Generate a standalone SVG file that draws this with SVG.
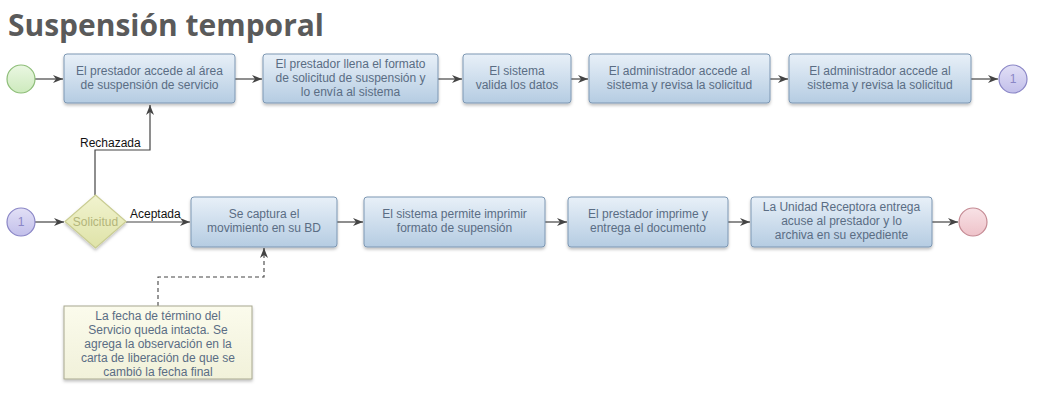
<svg xmlns="http://www.w3.org/2000/svg" width="1064" height="408" viewBox="0 0 1064 408">
<defs>
<linearGradient id="gBox" x1="0" y1="0" x2="0" y2="1"><stop offset="0" stop-color="#e8f0f8"/><stop offset="1" stop-color="#b5cce2"/></linearGradient>
<linearGradient id="gStart" x1="0" y1="0" x2="0" y2="1"><stop offset="0" stop-color="#eaf7e2"/><stop offset="1" stop-color="#cdeabd"/></linearGradient>
<linearGradient id="gLink" x1="0" y1="0" x2="0" y2="1"><stop offset="0" stop-color="#e2e0f6"/><stop offset="1" stop-color="#c2bfea"/></linearGradient>
<linearGradient id="gEnd" x1="0" y1="0" x2="0" y2="1"><stop offset="0" stop-color="#f8e2e6"/><stop offset="1" stop-color="#eec2c9"/></linearGradient>
<linearGradient id="gDia" x1="0" y1="0" x2="0" y2="1"><stop offset="0" stop-color="#f1f3cf"/><stop offset="1" stop-color="#dfe3a8"/></linearGradient>
<linearGradient id="gNote" x1="0" y1="0" x2="0" y2="1"><stop offset="0" stop-color="#fbfbec"/><stop offset="1" stop-color="#f1f1da"/></linearGradient>
<filter id="sh" x="-10%" y="-10%" width="130%" height="140%"><feDropShadow dx="0" dy="2" stdDeviation="1.5" flood-color="#000" flood-opacity="0.25"/></filter>
<marker id="arr" viewBox="0 0 10 10" refX="10" refY="5" markerWidth="10" markerHeight="10" markerUnits="userSpaceOnUse" orient="auto"><path d="M0,1 L10,5 L0,9 L3,5 Z" fill="#444"/></marker>
</defs>
<style>
.box{fill:url(#gBox);stroke:#7d97b3;stroke-width:1;filter:url(#sh)}
.t{font-family:"Liberation Sans",Arial,sans-serif;font-size:12px;fill:#5a6d84;text-anchor:middle}
.lbl{font-family:"Liberation Sans",Arial,sans-serif;font-size:12px;fill:#111}
.c{fill:none;stroke:#444;stroke-width:1.2}
.d{fill:none;stroke:#444;stroke-width:1.1;stroke-dasharray:4,3}
</style>
<text x="8" y="36" font-family="Open Sans, sans-serif" font-weight="bold" font-size="31" fill="#5a5a5a" textLength="316" lengthAdjust="spacingAndGlyphs">Suspensión temporal</text>

<g id="connectors">
<path class="c" d="M35,79 H63" marker-end="url(#arr)"/>
<path class="c" d="M235,79 H262" marker-end="url(#arr)"/>
<path class="c" d="M438,79 H462" marker-end="url(#arr)"/>
<path class="c" d="M571,79 H588" marker-end="url(#arr)"/>
<path class="c" d="M770,79 H788" marker-end="url(#arr)"/>
<path class="c" d="M971,79 H998" marker-end="url(#arr)"/>
<path class="c" d="M35,222 H64" marker-end="url(#arr)"/>
<path class="c" d="M95,195 V150 H150 V105" marker-end="url(#arr)"/>
<path class="c" d="M126,222 H190" marker-end="url(#arr)"/>
<path class="c" d="M337,222 H363" marker-end="url(#arr)"/>
<path class="c" d="M545,222 H567" marker-end="url(#arr)"/>
<path class="c" d="M728,222 H750" marker-end="url(#arr)"/>
<path class="c" d="M932,222 H958" marker-end="url(#arr)"/>
<path class="d" d="M158,306 V277 H264 V248" marker-end="url(#arr)"/>
<text class="lbl" x="80" y="147">Rechazada</text>
<text class="lbl" x="130" y="218">Aceptada</text>
</g>

<g id="start"><circle cx="21" cy="79" r="14" fill="url(#gStart)" stroke="#8dbd78" stroke-width="1.2"/></g>
<g id="n1"><rect class="box" x="64" y="54" width="171" height="49" rx="3"/><text class="t" x="149.5" y="75">El prestador accede al área</text><text class="t" x="149.5" y="89">de suspensión de servicio</text></g>
<g id="n2"><rect class="box" x="263" y="54" width="175" height="49" rx="3"/><text class="t" x="350.5" y="68">El prestador llena el formato</text><text class="t" x="350.5" y="82">de solicitud de suspensión y</text><text class="t" x="350.5" y="96">lo envía al sistema</text></g>
<g id="n3"><rect class="box" x="463" y="54" width="108" height="49" rx="3"/><text class="t" x="517" y="75">El sistema</text><text class="t" x="517" y="89">valida los datos</text></g>
<g id="n4"><rect class="box" x="589" y="54" width="181" height="49" rx="3"/><text class="t" x="679.5" y="75">El administrador accede al</text><text class="t" x="679.5" y="89">sistema y revisa la solicitud</text></g>
<g id="n5"><rect class="box" x="789" y="54" width="182" height="49" rx="3"/><text class="t" x="880" y="75">El administrador accede al</text><text class="t" x="880" y="89">sistema y revisa la solicitud</text></g>
<g id="link1"><circle cx="1013" cy="79" r="14" fill="url(#gLink)" stroke="#8a86c6" stroke-width="1.2"/><text class="t" x="1013" y="83" style="fill:#8a86c6">1</text></g>

<g id="link2"><circle cx="21" cy="222" r="14" fill="url(#gLink)" stroke="#8a86c6" stroke-width="1.2"/><text class="t" x="21" y="226" style="fill:#8a86c6">1</text></g>
<g id="gw"><polygon points="95.5,195 126,221.5 95.5,248 65,221.5" fill="url(#gDia)" stroke="#c9cc92" stroke-width="1.2" filter="url(#sh)"/><text class="t" x="95.5" y="226" style="fill:#b3b57a">Solicitud</text></g>
<g id="n6"><rect class="box" x="191" y="197" width="146" height="50" rx="3"/><text class="t" x="264" y="218">Se captura el</text><text class="t" x="264" y="232">movimiento en su BD</text></g>
<g id="n7"><rect class="box" x="364" y="197" width="181" height="50" rx="3"/><text class="t" x="454.5" y="218">El sistema permite imprimir</text><text class="t" x="454.5" y="232">formato de supensión</text></g>
<g id="n8"><rect class="box" x="568" y="197" width="160" height="50" rx="3"/><text class="t" x="648" y="218">El prestador imprime y</text><text class="t" x="648" y="232">entrega el documento</text></g>
<g id="n9"><rect class="box" x="751" y="197" width="181" height="50" rx="3"/><text class="t" x="841.5" y="211">La Unidad Receptora entrega</text><text class="t" x="841.5" y="225">acuse al prestador y lo</text><text class="t" x="841.5" y="239">archiva en su expediente</text></g>
<g id="end"><circle cx="973" cy="222" r="14" fill="url(#gEnd)" stroke="#c48a93" stroke-width="1.2"/></g>

<g id="note"><rect x="64" y="306" width="188" height="73" fill="url(#gNote)" stroke="#a8a890" stroke-width="1" filter="url(#sh)"/>
<text class="t" x="158" y="320">La fecha de término del</text>
<text class="t" x="158" y="334">Servicio queda intacta. Se</text>
<text class="t" x="158" y="348">agrega la observación en la</text>
<text class="t" x="158" y="362">carta de liberación de que se</text>
<text class="t" x="158" y="376">cambió la fecha final</text></g>
</svg>
